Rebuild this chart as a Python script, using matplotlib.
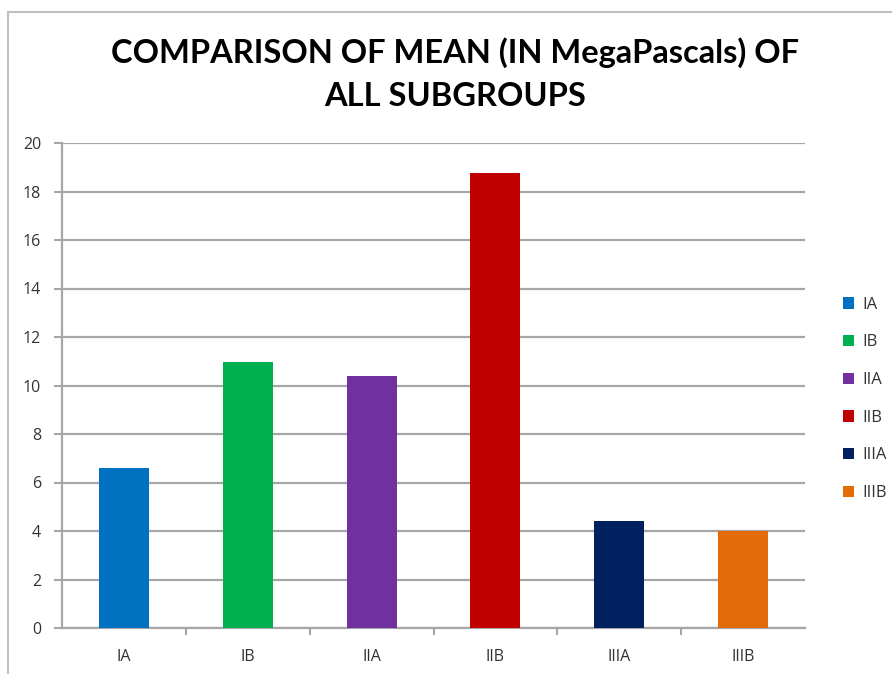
import matplotlib.pyplot as plt
from matplotlib.patches import Rectangle, Patch

groups = ["IA", "IB", "IIA", "IIB", "IIIA", "IIIB"]
means = [6.6, 10.95, 10.4, 18.78, 4.42, 4.0]
colors = ["#0070C0", "#00B050", "#7030A0", "#C00000", "#002060", "#E36C09"]
y_ticks = list(range(0, 21, 2))

GRID = "#a6a6a6"
TEXT = "#333333"

fig = plt.figure(figsize=(8.92, 6.74), dpi=100)

# outer chart border
fig.patches.append(Rectangle((8 / 892, -0.01), 1.0, 1 - 12 / 674 + 0.01,
                             transform=fig.transFigure, fill=False,
                             edgecolor="#bfbfbf", linewidth=1.5))

ax = fig.add_axes([62 / 892, 46 / 674, 743 / 892, 485 / 674])

x = list(range(len(groups)))
ax.bar(x, means, width=0.405, color=colors, zorder=3)

ax.set_xlim(-0.5, len(groups) - 0.5)
ax.set_ylim(0, 20)
ax.set_yticks(y_ticks)
ax.set_xticks(x)
ax.set_xticklabels(groups)
ax.set_xticks([i + 0.5 for i in range(len(groups) - 1)], minor=True)

ax.grid(axis="y", color=GRID, linewidth=1.6, zorder=0)
for s in ["top", "right"]:
    ax.spines[s].set_visible(False)
for s in ["left", "bottom"]:
    ax.spines[s].set_color(GRID)
    ax.spines[s].set_linewidth(1.6)

ax.tick_params(axis="y", colors=GRID, labelcolor=TEXT, labelsize=11.5,
               length=6, width=1.5, direction="out", pad=9)
ax.tick_params(axis="x", which="major", length=0, labelcolor=TEXT,
               labelsize=11.5, pad=15)
ax.tick_params(axis="x", which="minor", length=5, width=1.5, colors=GRID,
               direction="out")
for lbl in ax.get_xticklabels() + ax.get_yticklabels():
    lbl.set_family("Open Sans")

fig.text(0.51, 1 - 74 / 674,
         "COMPARISON OF MEAN (IN MegaPascals) OF\nALL SUBGROUPS",
         ha="center", va="center", fontsize=23.5, fontweight="bold",
         family="Lato", linespacing=1.6, color="black")

handles = [Patch(facecolor=c, edgecolor="none") for c in colors]
fig.legend(handles, groups, loc="center left",
           bbox_to_anchor=(828 / 892, 1 - 399 / 674), frameon=False,
           handlelength=0.65, handleheight=0.65, handletextpad=0.5,
           labelspacing=1.3, prop={"family": "Open Sans", "size": 12},
           labelcolor=TEXT)

fig.savefig("out.png", dpi=100, facecolor="white")
